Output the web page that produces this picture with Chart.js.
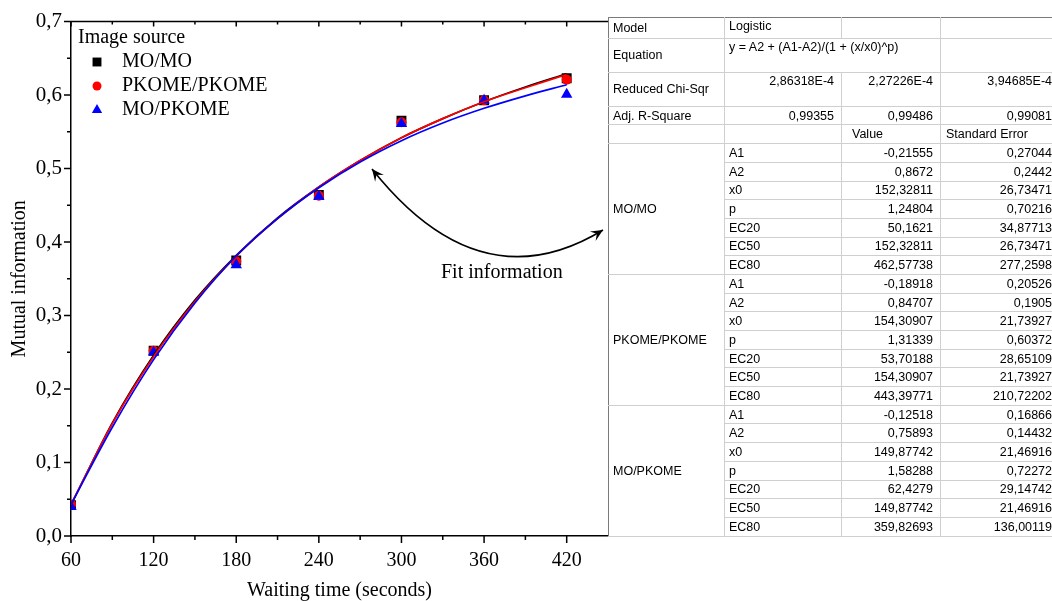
<!DOCTYPE html>
<html>
<head>
<meta charset="utf-8">
<script src="https://cdn.jsdelivr.net/npm/chart.js@4.4.0/dist/chart.umd.min.js"></script>
<style>
  body { margin: 0; background: #fff; width: 1052px; height: 601px; overflow: hidden; position: relative; }
  #plot { position: absolute; left: 0; top: 0; }
  #fitTable { position: absolute; left: 608px; top: 17px; width: 451px; border-collapse: collapse; table-layout: fixed;
    font: 12.5px "Liberation Sans", Arial, sans-serif; color: #000; }
  #fitTable td { border: 1px solid #cfcfcf; padding: 0 7px 0 4px; white-space: nowrap; overflow: hidden; line-height: 14px; }
  #fitTable tr:first-child td { border-top: 1.5px solid #7a7a7a; }
  #fitTable td.edge { border-left: 1.5px solid #7a7a7a; }
  #fitTable td.num { text-align: right; }
  #fitTable td.top { vertical-align: top; padding-top: 1px; }
  #fitTable tr.short { height: 18.7px; }
</style>
</head>
<body>
<canvas id="plot" width="1052" height="601"></canvas>
<table id="fitTable"></table>
<script>
// measured points
var waitTimes = [60, 120, 180, 240, 300, 360, 420];
var miMoMo = [0.042, 0.252, 0.375, 0.464, 0.565, 0.593, 0.623];
var miPkomePkome = [0.043, 0.252, 0.374, 0.463, 0.563, 0.593, 0.621];
var miMoPkome = [0.040, 0.250, 0.369, 0.462, 0.561, 0.593, 0.601];

// logistic fit curves
var curveTimes = [60, 90, 120, 150, 180, 210, 240, 270, 300, 330, 360, 390, 420];
var curveMoMo = [0.042, 0.154, 0.246, 0.321, 0.382, 0.433, 0.475, 0.511, 0.542, 0.568, 0.591, 0.611, 0.629];
var curvePkomePkome = [0.043, 0.153, 0.244, 0.319, 0.381, 0.432, 0.475, 0.511, 0.542, 0.568, 0.591, 0.610, 0.628];
var curveMoPkome = [0.043, 0.148, 0.240, 0.317, 0.381, 0.432, 0.474, 0.509, 0.538, 0.562, 0.582, 0.599, 0.614];

var seriesNames = ["MO/MO", "PKOME/PKOME", "MO/PKOME"];
var seriesColors = ["#000000", "#ff0000", "#0000ff"];
var seriesMarkers = ["rect", "circle", "triangle"];

var xMajor = [60, 120, 180, 240, 300, 360, 420];
var xMinor = [90, 150, 210, 270, 330, 390];
var yMajor = [0, 0.1, 0.2, 0.3, 0.4, 0.5, 0.6, 0.7];
var yMinor = [0.05, 0.15, 0.25, 0.35, 0.45, 0.55, 0.65];

// fit information table
var paramNames = ["A1", "A2", "x0", "p", "EC20", "EC50", "EC80"];
var chiSqr = ["2,86318E-4", "2,27226E-4", "3,94685E-4"];
var adjR2 = ["0,99355", "0,99486", "0,99081"];
var valuesMoMo = ["-0,21555", "0,8672", "152,32811", "1,24804", "50,1621", "152,32811", "462,57738"];
var errorsMoMo = ["0,27044", "0,2442", "26,73471", "0,70216", "34,87713", "26,73471", "277,2598"];
var valuesPkomePkome = ["-0,18918", "0,84707", "154,30907", "1,31339", "53,70188", "154,30907", "443,39771"];
var errorsPkomePkome = ["0,20526", "0,1905", "21,73927", "0,60372", "28,65109", "21,73927", "210,72202"];
var valuesMoPkome = ["-0,12518", "0,75893", "149,87742", "1,58288", "62,4279", "149,87742", "359,82693"];
var errorsMoPkome = ["0,16866", "0,14432", "21,46916", "0,72272", "29,14742", "21,46916", "136,00119"];

function buildTable() {
    var groupValues = [valuesMoMo, valuesPkomePkome, valuesMoPkome]
    var groupErrors = [errorsMoMo, errorsPkomePkome, errorsMoPkome]
    var html = '<colgroup><col style="width:116px"><col style="width:117px"><col style="width:99px"><col style="width:119px"></colgroup>'
    html += '<tr style="height:20.5px"><td class="edge">Model</td><td class="top">Logistic</td><td></td><td></td></tr>'
    html += '<tr style="height:34px"><td class="edge">Equation</td><td class="top" colspan="2">y = A2 + (A1-A2)/(1 + (x/x0)^p)</td><td></td></tr>'
    html += '<tr style="height:34.3px"><td class="edge">Reduced Chi-Sqr</td>'
    for (var i = 0; i < chiSqr.length; i++) html += '<td class="num top">' + chiSqr[i] + '</td>'
    html += '</tr><tr class="short"><td class="edge">Adj. R-Square</td>'
    for (var i = 0; i < adjR2.length; i++) html += '<td class="num">' + adjR2[i] + '</td>'
    html += '</tr><tr class="short"><td class="edge"></td><td></td><td style="padding-left:10px">Value</td><td style="padding-left:5px">Standard Error</td></tr>'
    for (var g = 0; g < seriesNames.length; g++) {
        for (var k = 0; k < paramNames.length; k++) {
            html += '<tr class="short">'
            if (k === 0) html += '<td class="edge" rowspan="' + paramNames.length + '">' + seriesNames[g] + '</td>'
            html += '<td>' + paramNames[k] + '</td><td class="num">' + groupValues[g][k] + '</td><td class="num">' + groupErrors[g][k] + '</td></tr>'
        }
    }
    document.getElementById("fitTable").innerHTML = html
}
buildTable()

function commaFmt(v, digits) {
    return v.toFixed(digits).replace(".", ",")
}

function toPoints(xs, ys) {
    var pts = []
    for (let i = 0; i < xs.length; i++) pts.push({ x: xs[i], y: ys[i] })
    return pts
}

var markerData = [miMoMo, miPkomePkome, miMoPkome]
var curveData = [curveMoMo, curvePkomePkome, curveMoPkome]
var markerSizes = [7, 5, 6.6]
var datasets = []

for (let i = 0; i < 3; i++) {
    datasets.push({
        label: seriesNames[i] + " fit",
        data: toPoints(curveTimes, curveData[i]),
        showLine: true,
        borderColor: seriesColors[i],
        borderWidth: 1.7,
        pointRadius: 0,
        cubicInterpolationMode: "monotone",
        order: 3 - i
    })
}
for (let i = 0; i < 3; i++) {
    datasets.push({
        label: seriesNames[i],
        data: toPoints(waitTimes, markerData[i]),
        showLine: false,
        pointStyle: seriesMarkers[i],
        pointRadius: markerSizes[i],
        backgroundColor: seriesColors[i],
        borderWidth: 0,
        isMarker: true,
        order: 6 - i
    })
}

var serif = '"Liberation Serif", "Times New Roman", serif'

// axis ticks, top frame, legend and the fit-information arrow
var decorations = {
    id: "decorations",
    afterDraw(chart) {
        var ctx = chart.ctx
        var xs = chart.scales.x
        var ys = chart.scales.y
        var area = chart.chartArea
        ctx.save()
        ctx.strokeStyle = "#000"
        ctx.lineWidth = 1.5
        ctx.beginPath()
        ctx.moveTo(area.left, area.top)
        ctx.lineTo(area.right, area.top)
        xMajor.forEach(v => {
            var px = xs.getPixelForValue(v)
            ctx.moveTo(px, area.bottom); ctx.lineTo(px, area.bottom + 7)
            ctx.moveTo(px, area.top); ctx.lineTo(px, area.top + 5)
        })
        xMinor.forEach(v => {
            var px = xs.getPixelForValue(v)
            ctx.moveTo(px, area.bottom); ctx.lineTo(px, area.bottom + 4)
            ctx.moveTo(px, area.top); ctx.lineTo(px, area.top + 3)
        })
        yMajor.forEach(v => {
            var py = ys.getPixelForValue(v)
            ctx.moveTo(area.left, py); ctx.lineTo(area.left - 7, py)
        })
        yMinor.forEach(v => {
            var py = ys.getPixelForValue(v)
            ctx.moveTo(area.left, py); ctx.lineTo(area.left - 4, py)
        })
        ctx.stroke()

        // legend
        ctx.fillStyle = "#000"
        ctx.font = "20px " + serif
        ctx.textBaseline = "middle"
        ctx.textAlign = "left"
        ctx.fillText("Image source", 78, 38)
        var rowY = [62, 86, 110]
        chart.data.datasets.filter(d => d.isMarker).forEach((d, i) => {
            ctx.fillStyle = d.backgroundColor
            Chart.helpers.drawPoint(ctx, { pointStyle: d.pointStyle, radius: d.pointRadius * 0.9, rotation: 0, borderWidth: 0 }, 97, rowY[i])
            ctx.fillStyle = "#000"
            ctx.fillText(d.label, 122, rowY[i])
        })

        // curved double arrow
        var p0 = { x: 372, y: 169 }, p1 = { x: 480, y: 305 }, p2 = { x: 603, y: 230 }
        ctx.lineWidth = 1.6
        ctx.beginPath()
        ctx.moveTo(p0.x, p0.y)
        ctx.quadraticCurveTo(p1.x, p1.y, p2.x, p2.y)
        ctx.stroke()
        drawHead(ctx, p0, p1)
        drawHead(ctx, p2, p1)

        ctx.font = "20px " + serif
        ctx.fillText("Fit information", 441, 273)
        ctx.restore()
    }
}

function drawHead(ctx, tip, from) {
    var ang = Math.atan2(tip.y - from.y, tip.x - from.x)
    var len = 12, half = 5.5
    ctx.save()
    ctx.translate(tip.x, tip.y)
    ctx.rotate(ang)
    ctx.beginPath()
    ctx.moveTo(0, 0)
    ctx.lineTo(-len, -half)
    ctx.lineTo(-len * 0.6, 0)
    ctx.lineTo(-len, half)
    ctx.closePath()
    ctx.fillStyle = "#000"
    ctx.fill()
    ctx.restore()
}

new Chart("plot", {
    type: "scatter",
    data: { datasets: datasets },
    plugins: [decorations],
    options: {
        responsive: false,
        animation: false,
        devicePixelRatio: 1,
        layout: { padding: { left: 0, right: 444, top: 19, bottom: 0 } },
        plugins: { legend: { display: false }, tooltip: { enabled: false } },
        scales: {
            x: {
                type: "linear",
                min: 60,
                max: 450,
                afterFit: s => { s.height = 65 },
                grid: { display: false, drawTicks: false },
                border: { display: true, color: "#000", width: 1.5 },
                ticks: {
                    stepSize: 60,
                    includeBounds: false,
                    padding: 13,
                    color: "#000",
                    font: { family: serif, size: 20 },
                    callback: v => String(v)
                },
                title: {
                    display: true,
                    text: "Waiting time (seconds)",
                    color: "#000",
                    font: { family: serif, size: 20, lineHeight: 1 },
                    padding: 0
                }
            },
            y: {
                min: 0,
                max: 0.7,
                afterFit: s => { s.width = 71 },
                grid: { display: false, drawTicks: false },
                border: { display: true, color: "#000", width: 1.5 },
                ticks: {
                    stepSize: 0.1,
                    padding: 9,
                    color: "#000",
                    font: { family: serif, size: 21 },
                    callback: v => commaFmt(v, 1)
                },
                title: {
                    display: true,
                    text: "Mutual information",
                    color: "#000",
                    font: { family: serif, size: 20, lineHeight: 1 },
                    padding: { top: 10, bottom: 0 }
                }
            }
        }
    }
})
</script>
</body>
</html>
